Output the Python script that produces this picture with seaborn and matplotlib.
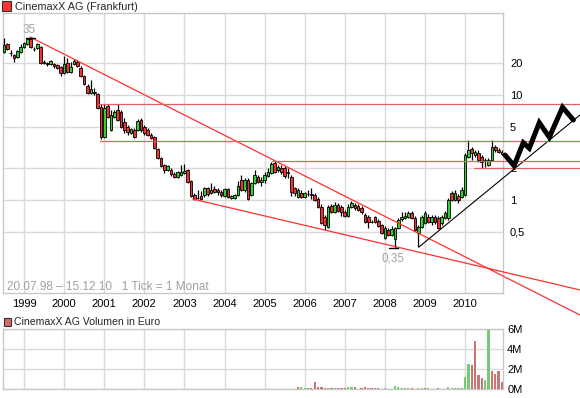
import numpy as np
import pandas as pd
import matplotlib
matplotlib.use("Agg")
import matplotlib.pyplot as plt
from matplotlib.patches import Rectangle
from matplotlib.ticker import NullLocator, FixedLocator, FixedFormatter
import seaborn as sns

sns.set_style("white")
plt.rcParams['font.family'] = ['Liberation Sans', 'DejaVu Sans']

# ---------------- data ----------------
title = "CinemaxX AG (Frankfurt)"
vol_title = "CinemaxX AG Volumen in Euro"
range_text = "20.07.98 \u2013 15.12.10   1 Tick = 1 Monat"
first_month = "1998-07-01"

opens = [
    25.7, 30.6, 25.2, 24.0, 23.0, 25.7, 28.6, 30.6, 34.1, 27.6,
    28.0, 28.6, 20.6, 20.2, 19.7, 19.7, 19.3, 18.5, 16.2, 20.2,
    16.6, 19.7, 20.6, 18.1, 15.2, 12.2, 10.4, 10.7, 10.2, 7.7,
    3.98, 7.86, 4.64, 6.2, 7.2, 6.9, 5.53, 4.95, 4.34, 4.64,
    4.64, 5.78, 4.95, 4.64, 4.16, 3.98, 3.06, 2.51, 2.15, 1.93,
    1.93, 1.77, 1.66, 1.73, 1.81, 1.93, 1.52, 1.115, 1.05, 1.09,
    1.115, 1.30, 1.165, 1.27, 1.245, 1.19, 1.09, 1.27, 1.045, 1.045,
    1.115, 1.55, 1.245, 1.55, 1.115, 1.45, 1.66, 1.48, 1.55, 1.69,
    1.81, 2.25, 1.93, 2.02, 2.02, 1.83, 1.66, 1.30, 1.07, 1.165,
    1.07, 1.15, 1.14, 1.115, 1.02, 0.858, 0.689, 0.553, 0.877, 0.769,
    0.896, 0.858, 0.769, 0.704, 0.858, 0.896, 0.877, 0.839, 0.72, 0.689,
    0.62, 0.689, 0.631, 0.578, 0.434, 0.518, 0.464, 0.425, 0.541, 0.659,
    0.674, 0.689, 0.752, 0.674, 0.485, 0.553, 0.604, 0.689, 0.617, 0.689,
    0.674, 0.604, 0.674, 0.674, 1.165, 1.0, 1.09, 1.07, 1.115, 2.56,
    3.06, 2.68, 2.80, 2.56, 2.40, 2.15, 2.40, 3.20, 2.99, 2.86]

closes = [
    29.9, 27.4, 25.0, 22.5, 26.2, 28.6, 31.3, 34.1, 28.6, 27.2,
    30.6, 20.2, 20.2, 19.7, 21.1, 18.9, 18.1, 16.2, 19.7, 16.6,
    18.5, 21.1, 18.9, 15.2, 12.7, 10.4, 11.4, 10.5, 7.5, 3.98,
    7.5, 6.2, 6.4, 6.9, 5.78, 4.95, 4.64, 4.44, 4.74, 3.98,
    5.65, 4.64, 4.34, 4.16, 3.90, 3.13, 2.51, 2.11, 1.93, 2.11,
    1.77, 1.66, 1.85, 1.85, 1.89, 1.48, 1.09, 1.02, 1.04, 1.02,
    1.30, 1.14, 1.245, 1.19, 1.19, 1.115, 1.27, 1.07, 1.09, 1.115,
    1.36, 1.245, 1.55, 1.02, 1.45, 1.73, 1.48, 1.55, 1.73, 1.85,
    2.20, 1.85, 2.06, 1.85, 1.69, 1.80, 1.19, 1.165, 1.245, 1.07,
    1.165, 1.13, 1.12, 1.0, 0.858, 0.604, 0.578, 0.858, 0.769, 0.896,
    0.786, 0.769, 0.704, 0.858, 0.936, 0.839, 0.803, 0.769, 0.617, 0.617,
    0.612, 0.617, 0.565, 0.485, 0.541, 0.464, 0.529, 0.541, 0.645, 0.689,
    0.704, 0.752, 0.674, 0.518, 0.553, 0.689, 0.752, 0.617, 0.689, 0.617,
    0.541, 0.689, 0.752, 1.0, 1.0, 1.165, 1.0, 1.245, 2.68, 2.99,
    2.80, 2.86, 2.40, 2.30, 2.35, 2.40, 3.20, 2.99, 2.86, 2.74]

highs = [
    34.9, 31.3, 26.8, 24.6, 26.8, 30.6, 32.0, 35.0, 34.9, 28.6,
    31.3, 29.3, 21.5, 20.6, 21.5, 20.2, 19.7, 18.9, 23.5, 22.5,
    20.6, 22.0, 21.5, 18.9, 15.5, 12.7, 13.9, 11.7, 10.4, 8.2,
    8.2, 8.2, 7.2, 7.2, 8.2, 7.2, 6.05, 5.18, 4.85, 4.85,
    5.9, 6.05, 5.18, 4.85, 4.34, 4.07, 3.13, 2.56, 2.2, 2.15,
    2.02, 1.85, 1.89, 2.15, 2.2, 1.97, 1.55, 1.165, 1.245, 1.22,
    1.33, 1.33, 1.45, 1.36, 1.30, 1.245, 1.30, 1.30, 1.115, 1.14,
    1.52, 1.73, 1.62, 1.62, 1.48, 1.93, 1.73, 1.66, 1.85, 2.02,
    2.30, 2.35, 2.15, 2.15, 2.11, 2.02, 1.73, 1.33, 1.30, 1.245,
    1.19, 1.245, 1.30, 1.165, 1.07, 0.916, 0.72, 0.896, 0.916, 0.956,
    0.936, 0.896, 0.803, 0.916, 0.978, 0.936, 0.916, 0.877, 0.752, 0.72,
    0.645, 0.704, 0.659, 0.591, 0.565, 0.541, 0.565, 0.553, 0.674, 0.769,
    0.769, 0.786, 0.786, 0.704, 0.578, 0.72, 0.786, 0.736, 0.72, 0.72,
    0.704, 0.72, 0.786, 1.045, 1.22, 1.245, 1.14, 1.33, 2.80, 3.73,
    3.20, 2.99, 2.99, 2.68, 2.51, 2.51, 3.73, 3.35, 3.13, 2.99]

lows = [
    25.1, 26.8, 23.5, 20.6, 22.5, 25.1, 28.0, 29.9, 28.0, 26.2,
    27.4, 19.7, 19.7, 18.9, 19.3, 18.1, 17.7, 15.2, 15.9, 16.2,
    16.2, 19.3, 18.5, 14.9, 12.4, 10.2, 10.2, 10.0, 7.3, 3.8,
    3.9, 6.05, 4.55, 6.05, 5.65, 4.85, 4.34, 4.16, 4.25, 3.9,
    4.55, 4.44, 4.16, 4.07, 3.8, 3.06, 2.45, 2.06, 1.81, 1.89,
    1.69, 1.62, 1.62, 1.69, 1.77, 1.45, 1.07, 1.0, 1.02, 1.0,
    1.07, 1.09, 1.14, 1.165, 1.115, 1.07, 1.07, 1.045, 1.02, 1.02,
    1.09, 1.22, 1.19, 1.0, 1.09, 1.42, 1.45, 1.36, 1.45, 1.66,
    1.77, 1.81, 1.85, 1.77, 1.62, 1.62, 1.09, 1.09, 1.045, 1.045,
    1.045, 1.09, 1.02, 0.98, 0.839, 0.59, 0.518, 0.541, 0.752, 0.752,
    0.769, 0.704, 0.689, 0.689, 0.839, 0.803, 0.786, 0.736, 0.604, 0.541,
    0.604, 0.604, 0.553, 0.474, 0.425, 0.454, 0.454, 0.349, 0.529, 0.631,
    0.659, 0.674, 0.659, 0.507, 0.357, 0.541, 0.591, 0.604, 0.578, 0.591,
    0.529, 0.578, 0.659, 0.645, 0.978, 0.978, 0.936, 1.045, 1.09, 2.51,
    2.40, 2.56, 2.30, 2.02, 2.06, 2.11, 2.35, 2.86, 2.80, 2.68]

# volume (million EUR), months from Nov 2005 to Dec 2010
vol_first_index = 88
volume_m = [
    0.23, 0.23, 0.13, 0.13, 0.13, 0.73, 0.23, 0.23, 0.13, 0.13,
    0.07, 0.13, 0.13, 0.13, 0.13, 0.23, 0.23, 0.23, 0.0, 0.13,
    0.23, 0.13, 0.13, 0.13, 0.07, 0.0, 0.13, 0.0, 0.0, 0.33,
    0.23, 0.13, 0.13, 0.13, 0.13, 0.0, 0.13, 0.13, 0.13, 0.13,
    0.0, 0.0, 0.13, 0.0, 0.0, 0.23, 0.13, 0.13, 0.13, 0.13,
    1.23, 2.53, 2.43, 4.83, 1.43, 1.13, 0.93, 5.93, 1.83, 1.53,
    1.83, 0.67]
volume_up = [
    0, 1, 1, 0, 0, 0, 0, 0, 0, 1,
    0, 1, 0, 0, 0, 1, 1, 0, 0, 0,
    0, 0, 0, 0, 0, 0, 1, 0, 0, 1,
    1, 1, 1, 1, 0, 0, 1, 1, 0, 1,
    0, 0, 0, 0, 0, 1, 1, 1, 1, 1,
    1, 1, 0, 0, 0, 0, 1, 1, 0, 0,
    0, 0]

year_ticks = list(range(1999, 2011))
price_ticks = [0.5, 1, 2, 5, 10, 20]
price_tick_labels = ["0,5", "1", "2", "5", "10", "20"]
vol_ticks = [0, 2, 4, 6]
vol_tick_labels = ["0M", "2M", "4M", "6M"]

# drawn analysis: trend lines (decimal year, price)
resist_x, resist_y = [1999.15, 2012.865], [35.7, 0.0803]
support_x, support_y = [2003.21, 2012.865], [1.02, 0.139]
uptrend_x, uptrend_y = [2008.85, 2012.865], [0.357, 6.45]
level_values = [8.2, 3.65, 2.33, 2.0]
level_starts = [2000.85, 2000.90, 2005.18, 2010.22]
level_end = 2012.865
zigzag_x = [2010.995, 2011.22, 2011.45, 2011.60, 2011.85, 2012.10, 2012.43, 2012.70]
zigzag_y = [2.68, 2.12, 3.51, 3.11, 5.45, 3.96, 7.64, 5.78]

# ---------------- derived ----------------
dates = pd.date_range(first_month, periods=len(closes), freq="MS")
t = (dates.year + (dates.month - 1) / 12.0).to_numpy()
o = np.array(opens); c = np.array(closes)
h = np.array(highs); l = np.array(lows)
up = c >= o

GREEN = "#2fd12f"
RED = "#f23030"
GRID = "#dadada"
FRAME = "#c8c8c8"
W, H = 580, 398

fig = plt.figure(figsize=(W / 100, H / 100), dpi=100)
ax = fig.add_axes([3 / W, 1 - 293 / H, 500 / W, 280 / H])
axv = fig.add_axes([3 / W, 1 - 389 / H, 500 / W, 60 / H])

# ---------- price panel ----------
ax.set_yscale("log")
ax.set_xlim(1998.476, 2010.945)
ax.set_ylim(0.130, 60.4)
ax.set_axisbelow(True)
ax.grid(True, color=GRID, lw=1.0)
ax.xaxis.set_major_locator(FixedLocator(year_ticks))
ax.xaxis.set_major_formatter(FixedFormatter([str(y) for y in year_ticks]))
ax.yaxis.set_major_locator(FixedLocator(price_ticks))
ax.yaxis.set_major_formatter(FixedFormatter(price_tick_labels))
ax.yaxis.set_minor_locator(NullLocator())
ax.xaxis.set_minor_locator(NullLocator())
ax.tick_params(axis="y", length=0, pad=5, labelright=True, labelleft=False,
               labelsize=8, colors="black")
ax.tick_params(axis="x", length=0, pad=4, labelsize=8, colors="black")
for s in ax.spines.values():
    s.set_color(FRAME); s.set_linewidth(1.0)

# wicks & bodies
ax.vlines(t, l, h, color="black", lw=0.9, zorder=3)
body_bottom = np.minimum(o, c)
body_height = np.maximum(np.abs(c - o), body_bottom * 0.004)
ax.bar(t, body_height, bottom=body_bottom, width=0.066,
       color=np.where(up, GREEN, RED), edgecolor="black", lw=0.6, zorder=4)

# trend lines
kw = dict(clip_on=False, zorder=5)
ax.plot(resist_x, resist_y, color="#ff3030", lw=0.9, **kw)
ax.plot(support_x, support_y, color="#ff3030", lw=0.9, **kw)
ax.plot(uptrend_x, uptrend_y, color="black", lw=0.8, **kw)
for lv, st in zip(level_values, level_starts):
    ax.plot([st, level_end], [lv, lv], color="#e46060", lw=0.9, **kw)
ax.plot(zigzag_x, zigzag_y, color="black", lw=3.6, solid_joinstyle="miter", **kw)

# max / min markers
i_max = int(np.argmax(h)); i_min = int(np.argmin(l))
ax.plot([t[i_max] - 0.04, t[i_max] + 0.19], [h[i_max]] * 2, color="black", lw=1.0, zorder=6)
ax.annotate(f"{h[i_max]:.0f}", (t[i_max] + 0.05, h[i_max]), xytext=(0, 6),
            textcoords="offset points", ha="center", va="center",
            fontsize=8.5, color="#a0a0a0")
ax.plot([t[i_min] - 0.15, t[i_min] + 0.08], [l[i_min]] * 2, color="black", lw=1.0, zorder=6)
ax.annotate(f"{l[i_min]:.2f}".replace(".", ","), (t[i_min] - 0.05, l[i_min]),
            xytext=(0, -7.5), textcoords="offset points", ha="center",
            va="center", fontsize=8.5, color="#a0a0a0")

# ---------- volume panel ----------
vol_df = pd.DataFrame({
    "t": t[vol_first_index:vol_first_index + len(volume_m)],
    "vol": np.array(volume_m) * 1e6,
    "dir": ["up" if u else "down" for u in volume_up],
})
sns.barplot(data=vol_df, x="t", y="vol", hue="dir", native_scale=True,
            dodge=False, width=0.65, errorbar=None, legend=False,
            palette={"up": "#66d966", "down": "#d96666"}, linewidth=0,
            ax=axv, zorder=3)
axv.set_xlabel(""); axv.set_ylabel("")
axv.set_xlim(ax.get_xlim())
axv.set_ylim(0, 6e6)
axv.set_axisbelow(True)
axv.grid(True, color=GRID, lw=1.0)
axv.xaxis.set_major_locator(FixedLocator(year_ticks))
axv.xaxis.set_minor_locator(NullLocator())
axv.yaxis.set_major_locator(FixedLocator([v * 1e6 for v in vol_ticks]))
axv.yaxis.set_major_formatter(FixedFormatter(vol_tick_labels))
axv.tick_params(axis="x", length=0, labelbottom=False)
axv.tick_params(axis="y", length=0, pad=3, labelright=True, labelleft=False,
                labelsize=8, colors="black")
for s in axv.spines.values():
    s.set_color(FRAME); s.set_linewidth(1.0)

# ---------- titles / texts ----------
fig.add_artist(Rectangle((1.5 / W, 1 - 10.5 / H), 9 / W, 9 / H,
                         transform=fig.transFigure, facecolor="#ff3333",
                         edgecolor="#333333", lw=0.8))
fig.text(15 / W, 1 - 6.5 / H, title, fontsize=7.8, va="center", ha="left")
fig.add_artist(Rectangle((3.5 / W, 1 - 325.5 / H), 7.5 / W, 7.5 / H,
                         transform=fig.transFigure, facecolor="#d46a6a",
                         edgecolor="#333333", lw=0.8))
fig.text(14 / W, 1 - 322 / H, vol_title, fontsize=7.6, va="center", ha="left")
fig.text(7 / W, 1 - 287 / H, range_text, fontsize=8.5, va="center", ha="left",
         color="#a0a0a0")

fig.savefig("out.png", dpi=100)
